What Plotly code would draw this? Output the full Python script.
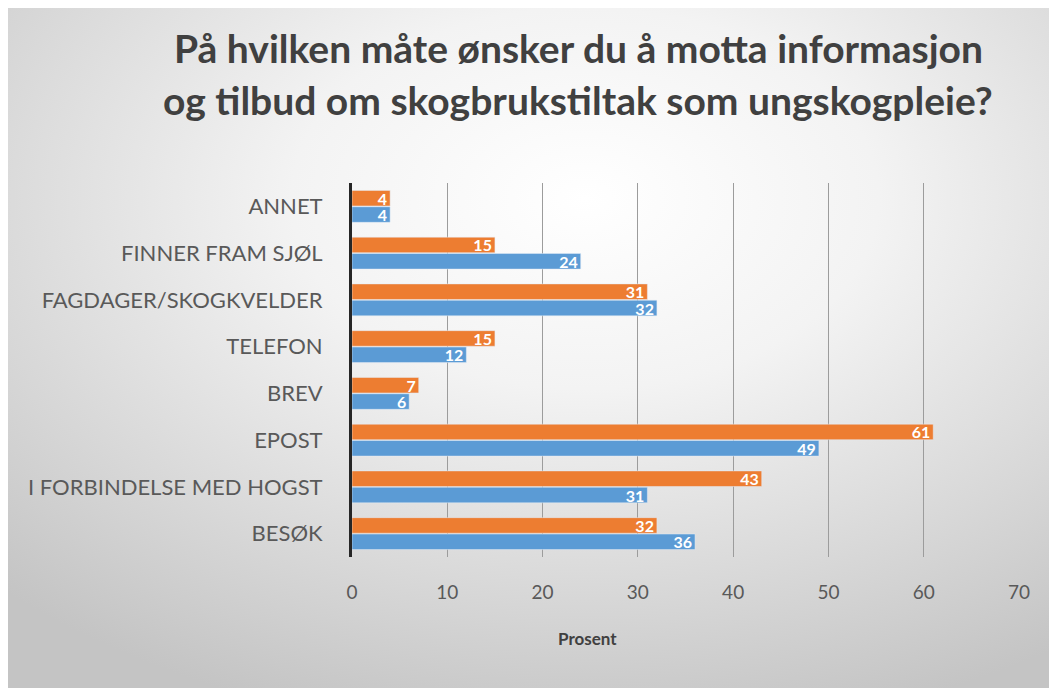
import base64
import plotly.graph_objects as go

# ---- data ----
categories = ["BESØK", "I FORBINDELSE MED HOGST", "EPOST", "BREV", "TELEFON",
              "FAGDAGER/SKOGKVELDER", "FINNER FRAM SJØL", "ANNET"]
series_blue = [36, 31, 49, 6, 12, 32, 24, 4]
series_orange = [32, 43, 61, 7, 15, 31, 15, 4]
x_ticks = [0, 10, 20, 30, 40, 50, 60, 70]
title_lines = ["På hvilken måte ønsker du å motta informasjon",
               "og tilbud om skogbrukstiltak som ungskogpleie?"]
x_title = "Prosent"

W, H = 1049, 680
L, R, T, B = 344, 38, 175, 131
PW = W - L - R
PH = H - T - B

FONT = "Lato"
BLUE = "#5B9BD5"
ORANGE = "#ED7D31"

fig = go.Figure()
for vals, col, nm in ((series_blue, BLUE, "blå"), (series_orange, ORANGE, "oransje")):
    fig.add_trace(go.Bar(
        y=categories, x=vals, orientation="h", marker_color=col,
        text=[str(v) for v in vals], textposition="inside", textangle=0,
        insidetextanchor="end", constraintext="none",
        textfont=dict(color="white", size=16, family=FONT, weight="bold"),
        name=nm, hoverinfo="x+y"))

# radial gradient background
svg = f'''<svg xmlns="http://www.w3.org/2000/svg" width="{W}" height="{H}">
<defs><radialGradient id="g" cx="0.55" cy="0.28" r="0.8" fx="0.55" fy="0.28">
<stop offset="0" stop-color="#ffffff"/><stop offset="0.35" stop-color="#f3f3f3"/>
<stop offset="1" stop-color="#c4c4c4"/></radialGradient></defs>
<rect width="{W}" height="{H}" fill="url(#g)"/></svg>'''
src = "data:image/svg+xml;base64," + base64.b64encode(svg.encode()).decode()

fig.add_layout_image(dict(
    source=src, xref="paper", yref="paper",
    x=-L / PW, y=1 + T / PH, sizex=W / PW, sizey=H / PH,
    xanchor="left", yanchor="top", sizing="stretch", layer="below"))

annotations = []
for i, line in enumerate(title_lines):
    fy = 40 + i * 52
    annotations.append(dict(
        text=line, xref="paper", yref="paper",
        x=(570 - L) / PW, y=(H - B - fy) / PH, xanchor="center", yanchor="middle",
        showarrow=False, font=dict(family=FONT, size=39, color="#404040", weight="bold")))
annotations.append(dict(
    text=x_title, xref="paper", yref="paper",
    x=(579 - L) / PW, y=(H - B - 630) / PH, xanchor="center", yanchor="middle",
    showarrow=False, font=dict(family=FONT, size=17, color="#404040", weight="bold")))

fig.update_layout(
    width=W, height=H,
    margin=dict(l=L, r=R, t=T, b=B, pad=0),
    paper_bgcolor="#c8c8c8", plot_bgcolor="rgba(0,0,0,0)",
    barmode="group", bargap=0.3, bargroupgap=0.05,
    showlegend=False,
    annotations=annotations,
    font=dict(family=FONT, color="#595959"),
    xaxis=dict(range=[0, 70], tickvals=x_ticks, showgrid=True, gridcolor="#9c9c9c",
               gridwidth=1, zeroline=False, showline=False, ticks="",
               tickfont=dict(size=19, color="#595959", family=FONT),
               ticklabelstandoff=22, fixedrange=True),
    yaxis=dict(categoryorder="array", categoryarray=categories, showgrid=False,
               showline=True, linecolor="#262626", linewidth=3, ticks="",
               tickfont=dict(size=22, color="#595959", family=FONT),
               ticklabelstandoff=22, zeroline=False, fixedrange=True),
)

fig.write_html("out.html")
